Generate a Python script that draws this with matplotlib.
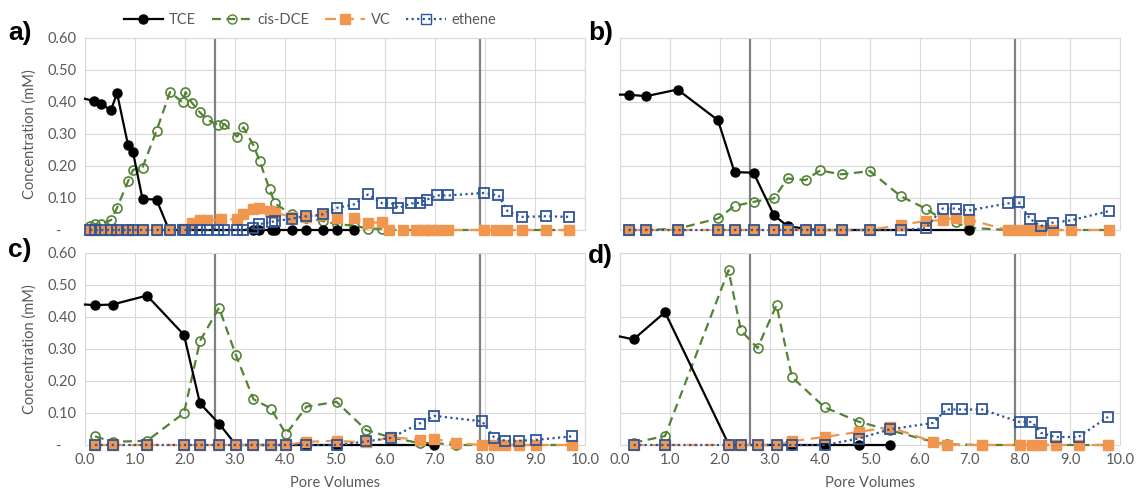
import numpy as np
import matplotlib
matplotlib.use("Agg")
import matplotlib.pyplot as plt
from matplotlib.lines import Line2D

plt.rcParams['font.family'] = ['Lato', 'DejaVu Sans']

# ---- panel a) ----
a_tce_x = [0.0, 0.18, 0.31, 0.52, 0.64, 0.86, 0.96, 1.15, 1.43, 1.68, 3.37, 3.47, 3.73, 3.80, 4.13, 4.43, 4.75, 5.03, 5.38]
a_tce_y = [0.41, 0.403, 0.395, 0.374, 0.428, 0.266, 0.243, 0.097, 0.095, 0, 0, 0, 0, 0, 0, 0, 0, 0, 0]
a_dce_x = [0.10, 0.20, 0.31, 0.52, 0.64, 0.86, 0.96, 1.15, 1.43, 1.70, 1.95, 2.01, 2.14, 2.29, 2.44, 2.67, 2.79,
           3.04, 3.17, 3.37, 3.49, 3.69, 3.80, 4.13, 4.43, 4.75, 5.03, 5.38, 5.66, 5.95, 6.09, 6.37, 6.63, 6.78,
           6.92, 7.06, 7.27, 7.99, 8.23, 8.45, 8.73, 9.22, 9.69]
a_dce_y = [0.014, 0.018, 0.018, 0.031, 0.069, 0.152, 0.188, 0.195, 0.31, 0.431, 0.399, 0.431, 0.397, 0.369, 0.345,
           0.328, 0.331, 0.292, 0.321, 0.264, 0.217, 0.128, 0.083, 0.049, 0.038, 0.028, 0.018, 0.014, 0.004, 0.004,
           0, 0, 0, 0, 0, 0, 0, 0, 0, 0, 0, 0, 0]
a_vc_x = [0.10, 0.20, 0.31, 0.52, 0.64, 0.86, 0.96, 1.15, 1.43, 1.70, 1.95, 2.14, 2.29, 2.44, 2.73, 3.04, 3.17, 3.37,
          3.47, 3.69, 3.80, 4.13, 4.43, 4.75, 5.03, 5.38, 5.66, 5.95, 6.09, 6.37, 6.63, 6.78, 6.92, 7.06, 7.27, 7.99,
          8.23, 8.45, 8.73, 9.22, 9.69]
a_vc_y = [0, 0, 0, 0, 0, 0, 0, 0, 0, 0, 0.004, 0.021, 0.031, 0.031, 0.033, 0.033, 0.049, 0.066, 0.069, 0.059, 0.054,
          0.041, 0.041, 0.046, 0.038, 0.038, 0.021, 0.025, 0, 0, 0, 0, 0, 0, 0, 0, 0, 0, 0, 0, 0]
a_eth_x = [0.10, 0.20, 0.31, 0.52, 0.64, 0.86, 0.96, 1.15, 1.43, 1.70, 1.95, 2.01, 2.14, 2.29, 2.44, 2.67, 2.79, 3.04,
           3.17, 3.37, 3.47, 3.73, 3.80, 4.13, 4.43, 4.75, 5.03, 5.38, 5.66, 5.95, 6.12, 6.27, 6.53, 6.69, 6.84, 7.04,
           7.27, 7.99, 8.27, 8.45, 8.73, 9.22, 9.69]
a_eth_y = [0] * 19 + [0.007, 0.018, 0.025, 0.028, 0.035, 0.043, 0.049, 0.069, 0.080, 0.111, 0.083, 0.085, 0.069,
                      0.083, 0.085, 0.095, 0.108, 0.108, 0.116, 0.108, 0.059, 0.041, 0.043, 0.041]

# ---- panel b) ----
b_x = [0.17, 0.52, 1.15, 1.96, 2.29, 2.67, 3.08, 3.35, 3.71, 4.0, 4.43, 5.0, 5.61, 6.11, 6.45, 6.71, 6.97,
       7.75, 7.97, 8.20, 8.41, 8.65, 9.01, 9.78]
b_tce_x = [0.0, 0.17, 0.52, 1.15, 1.96, 2.29, 2.67, 3.08, 3.35, 3.71, 4.0, 4.43, 5.0, 6.97]
b_tce_y = [0.423, 0.423, 0.418, 0.439, 0.343, 0.181, 0.179, 0.046, 0.012, 0.004, 0, 0, 0, 0]
b_dce_y = [0, 0, 0.004, 0.036, 0.075, 0.088, 0.099, 0.161, 0.156, 0.186, 0.174, 0.184, 0.106, 0.067, 0.033, 0.025,
           0.007, 0, 0, 0, 0, 0, 0, 0]
b_vc_y = [0] * 12 + [0.016, 0.028, 0.031, 0.038, 0.033, 0, 0, 0, 0, 0, 0, 0]
b_eth_y = [0] * 12 + [0, 0.005, 0.067, 0.067, 0.061, 0.083, 0.087, 0.035, 0.012, 0.023, 0.030, 0.059]

# ---- panel c) ----
c_x = [0.20, 0.55, 1.24, 1.98, 2.30, 2.68, 3.02, 3.37, 3.72, 4.02, 4.43, 5.03, 5.62, 6.11, 6.69, 6.99, 7.43, 7.94,
       8.19, 8.41, 8.67, 9.03, 9.73]
c_tce_x = [0.0, 0.20, 0.55, 1.24, 1.98, 2.30, 2.68, 3.02, 3.37, 3.72, 4.02, 4.43, 5.03, 6.99]
c_tce_y = [0.439, 0.437, 0.439, 0.467, 0.344, 0.130, 0.067, 0, 0, 0, 0, 0, 0, 0]
c_dce_y = [0.027, 0.010, 0.013, 0.100, 0.325, 0.429, 0.280, 0.143, 0.114, 0.034, 0.120, 0.135, 0.047, 0.024, 0.006,
           0.006, 0, 0, 0, 0, 0, 0, 0]
c_vc_y = [0] * 10 + [0.010, 0.013, 0.008, 0.024, 0.017, 0.019, 0.006, 0, 0, 0, 0, 0, 0]
c_eth_y = [0] * 12 + [0.011, 0.022, 0.067, 0.091, np.nan, 0.074, 0.022, 0.013, 0.013, 0.016, 0.027]

# ---- panel d) ----
d_x = [0.27, 0.90, 2.17, 2.42, 2.75, 3.13, 3.44, 4.09, 4.77, 5.40, 6.26, 6.53, 6.83, 7.24, 7.99, 8.24, 8.42, 8.71,
       9.17, 9.76]
d_tce_x = [0.0, 0.27, 0.90, 2.17, 2.42, 2.75, 3.13, 3.44, 4.09, 4.77, 5.40]
d_tce_y = [0.339, 0.330, 0.415, 0.003, 0, 0, 0, 0, 0, 0, 0]
d_dce_y = [0.007, 0.028, 0.546, 0.358, 0.303, 0.437, 0.212, 0.118, 0.073, 0.046, 0.010, 0.002, np.nan, 0, 0, 0, 0,
           0, 0, 0]
d_vc_y = [0, 0, 0, 0, 0, 0, 0.012, 0.025, 0.041, 0.056, 0.010, 0, np.nan, 0, 0, 0, 0, 0, 0, 0]
d_eth_y = [0, 0, 0, 0, 0, 0, 0, 0, 0.020, 0.049, 0.069, 0.111, 0.111, 0.111, 0.072, 0.072, 0.038, 0.025, 0.025, 0.088]

vlines = [2.6, 7.9]
yticks = [0, 0.1, 0.2, 0.3, 0.4, 0.5, 0.6]
xticks = [0, 1, 2, 3, 4, 5, 6, 7, 8, 9, 10]

C_TCE = '#000000'
C_DCE = '#548235'
C_VC = '#F0964F'
C_ETH = '#2F5597'
GREY = '#595959'


def clean(x, y):
    x = np.asarray(x, float)
    y = np.asarray(y, float)
    ok = ~np.isnan(y)
    return x[ok], y[ok]


def draw_panel(ax, tce, dce, vc, eth):
    x, y = clean(*dce)
    ax.plot(x, y, color=C_DCE, ls=(0, (4, 2.5)), lw=1.6, marker='o', ms=6.5, mfc='none',
            mec=C_DCE, mew=1.2, zorder=3, clip_on=False)
    x, y = clean(*tce)
    ax.plot(x, y, color=C_TCE, lw=1.6, marker='o', ms=6.5, mfc=C_TCE, mec=C_TCE,
            markevery=list(range(1, len(x))), zorder=4, clip_on=False)
    x, y = clean(*vc)
    ax.plot(x, y, color=C_VC, ls=(0, (5, 3)), lw=1.6, marker='s', ms=6.5, mfc=C_VC,
            mec=C_VC, zorder=5, clip_on=False)
    x, y = clean(*eth)
    ax.plot(x, y, color=C_ETH, ls=(0, (1, 1.5)), lw=1.6, marker='s', ms=6.5, mfc='none',
            mec=C_ETH, mew=1.3, zorder=6, clip_on=False)
    for v in vlines:
        ax.axvline(v, color='#808080', lw=1.6, zorder=2)
    ax.set_xlim(0, 10)
    ax.set_ylim(0, 0.6)
    ax.set_xticks(xticks)
    ax.set_yticks(yticks)
    ax.grid(True, color='#D9D9D9', lw=0.8, zorder=0)
    ax.set_axisbelow(True)
    for s in ax.spines.values():
        s.set_color('#D9D9D9')
        s.set_linewidth(0.8)
    ax.tick_params(length=0, labelsize=10.5, labelcolor=GREY, pad=6)
    ax.set_yticklabels(['-    '] + ['%.2f' % t for t in yticks[1:]])
    ax.set_xticklabels(['%.1f' % t for t in xticks])


fig = plt.figure(figsize=(11.4, 4.96), dpi=100)
lw_ = 500 / 1140
h_ = 192 / 496
ax_a = fig.add_axes([85 / 1140, 1 - 230 / 496, lw_, h_])
ax_b = fig.add_axes([620 / 1140, 1 - 230 / 496, lw_, h_])
ax_c = fig.add_axes([85 / 1140, 1 - 445 / 496, lw_, h_])
ax_d = fig.add_axes([620 / 1140, 1 - 445 / 496, lw_, h_])

draw_panel(ax_a, (a_tce_x, a_tce_y), (a_dce_x, a_dce_y), (a_vc_x, a_vc_y), (a_eth_x, a_eth_y))
draw_panel(ax_b, (b_tce_x, b_tce_y), (b_x, b_dce_y), (b_x, b_vc_y), (b_x, b_eth_y))
draw_panel(ax_c, (c_tce_x, c_tce_y), (c_x, c_dce_y), (c_x, c_vc_y), (c_x, c_eth_y))
draw_panel(ax_d, (d_tce_x, d_tce_y), (d_x, d_dce_y), (d_x, d_vc_y), (d_x, d_eth_y))

for ax in (ax_a, ax_b):
    ax.tick_params(labelbottom=False)
for ax in (ax_b, ax_d):
    ax.tick_params(labelleft=False)
for ax in (ax_a, ax_c):
    ax.set_ylabel('Concentration (mM)', fontsize=10.5, color=GREY, labelpad=8)
for ax in (ax_c, ax_d):
    ax.set_xlabel('Pore Volumes', fontsize=10.5, color=GREY, labelpad=6)

panel_labels = [('a)', 8, 33), ('b)', 588, 33), ('c)', 8, 250), ('d)', 588, 256)]
for lab, px, py in panel_labels:
    fig.text(px / 1140, 1 - py / 496, lab, fontsize=19, fontweight='bold', ha='left', va='center',
             family=['Liberation Sans', 'DejaVu Sans'])

handles = [
    Line2D([], [], color=C_TCE, lw=1.6, marker='o', ms=6.5, mfc=C_TCE),
    Line2D([], [], color=C_DCE, ls=(0, (4, 2.5)), lw=1.6, marker='o', ms=6.5, mfc='none', mec=C_DCE),
    Line2D([], [], color=C_VC, ls=(0, (5, 3)), lw=1.6, marker='s', ms=6.5, mfc=C_VC),
    Line2D([], [], color=C_ETH, ls=(0, (1, 1.5)), lw=1.6, marker='s', ms=6.5, mfc='none', mec=C_ETH),
]
leg = fig.legend(handles, ['TCE', 'cis-DCE', 'VC', 'ethene'], loc='center',
                 bbox_to_anchor=(310 / 1140, 1 - 20 / 496), ncol=4, frameon=False, fontsize=10.5,
                 handlelength=2.7, columnspacing=1.1, handletextpad=0.4)
for t in leg.get_texts():
    t.set_color(GREY)

fig.savefig('out.png', dpi=100)
